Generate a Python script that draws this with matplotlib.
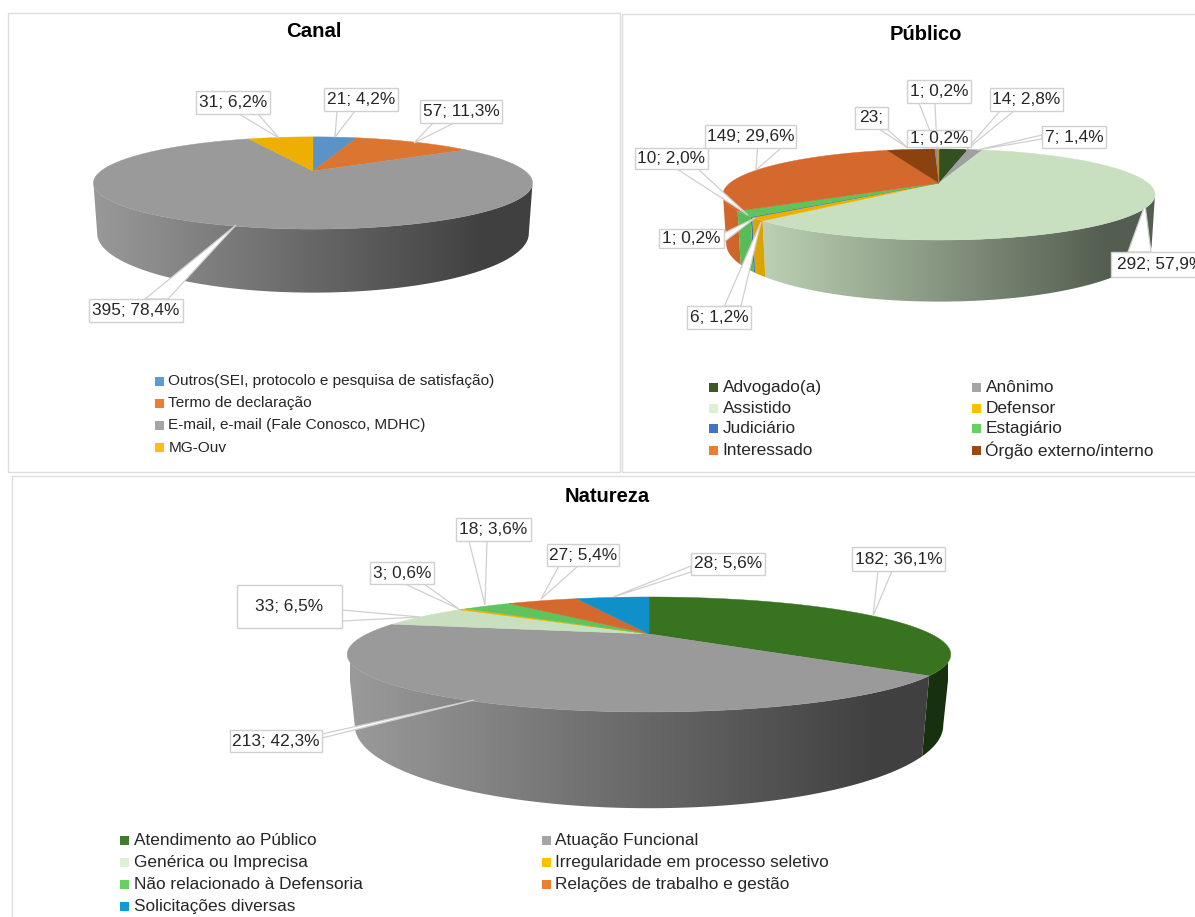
import numpy as np
import matplotlib
matplotlib.use("Agg")
import matplotlib.pyplot as plt
from matplotlib.patches import Polygon, Rectangle
from matplotlib.colors import to_rgb

plt.rcParams['font.family'] = ['Liberation Sans', 'DejaVu Sans']

# ---- data ----
canal_values = [21, 57, 395, 31]
canal_colors = ['#5B93C8', '#DC752F', '#9A9A9A', '#EDB000']
canal_labels = ['21; 4,2%', '57; 11,3%', '395; 78,4%', '31; 6,2%']
canal_legend = ['Outros(SEI, protocolo e pesquisa de satisfação)', 'Termo de declaração',
                'E-mail, e-mail (Fale Conosco, MDHC)', 'MG-Ouv']
canal_legend_colors = ['#5B9BD5', '#ED7D31', '#A5A5A5', '#FFC000']

publico_values = [14, 7, 292, 6, 1, 10, 149, 23, 1, 1]
publico_colors = ['#335020', '#A0A0A0', '#C9E0C0', '#EDB000', '#4A78B8', '#5EC45C',
                  '#D4682D', '#8C420F', '#7E8C9E', '#B8922E']
publico_labels = ['14; 2,8%', '7; 1,4%', '292; 57,9%', '6; 1,2%', '1; 0,2%', '10; 2,0%',
                  '149; 29,6%', '23;', '1; 0,2%', '1; 0,2%']
publico_legend = ['Advogado(a)', 'Anônimo', 'Assistido', 'Defensor', 'Judiciário',
                  'Estagiário', 'Interessado', 'Órgão externo/interno']
publico_legend_colors = ['#3B5A28', '#A5A5A5', '#DDF0D5', '#FFC000', '#4472C4', '#66D060',
                         '#ED7D31', '#9E480E']

natureza_values = [182, 213, 33, 3, 18, 27, 28]
natureza_colors = ['#38741F', '#9A9A9A', '#C9E0C0', '#EDB000', '#5EC45C', '#D4682D', '#0F90C8']
natureza_labels = ['182; 36,1%', '213; 42,3%', '33; 6,5%', '3; 0,6%', '18; 3,6%', '27; 5,4%', '28; 5,6%']
natureza_legend = ['Atendimento ao Público', 'Atuação Funcional', 'Genérica ou Imprecisa',
                   'Irregularidade em processo seletivo', 'Não relacionado à Defensoria',
                   'Relações de trabalho e gestão', 'Solicitações diversas']
natureza_legend_colors = ['#3F7D2A', '#A5A5A5', '#DDF0D5', '#FFC000', '#66D060', '#ED7D31', '#0F9BD8']

# ---- layout (pixel space of the picture) ----
W, H = 1195, 917
fig = plt.figure(figsize=(W / 100, H / 100), dpi=100)
ax = fig.add_axes([0, 0, 1, 1])
ax.axis('off')


def rim(theta, g):
    u, v = np.sin(theta), np.cos(theta)
    w = 1 + g['k'] * v
    return g['cx'] + g['rx'] * u / w, g['cy'] - g['ry'] * v / w, w


def pie3d(values, colors, g):
    vals = np.asarray(values, float)
    edges = np.concatenate([[0], np.cumsum(vals)]) / vals.sum() * 2 * np.pi
    left, right = g['cx'] - g['rx'] * 1.06, g['cx'] + g['rx'] * 1.06
    ramp = np.clip(np.linspace(0, 1, 256) / 0.88, 0, 1)[None, :, None]
    # only the front part of the rim, between its two horizontal extremes, shows a wall
    front0 = np.arccos(-g['k'])
    front1 = 2 * np.pi - front0
    for i, col in enumerate(colors):
        a, b = max(edges[i], front0), min(edges[i + 1], front1)
        if b <= a:
            continue
        n = max(3, int(np.degrees(b - a) * 2))
        th = np.linspace(a, b, n + 1)
        x, y, w = rim(th, g)
        xb = g['cx'] + (x - g['cx']) * g['taper']
        yb = y + g['d'] / w
        pts = list(zip(x, y)) + list(zip(xb[::-1], yb[::-1]))
        base = np.array(to_rgb(col))[None, None, :]
        grad = base * (1 - g['dark'] * ramp)
        clip = Polygon(pts, closed=True, facecolor='none', edgecolor='none', transform=ax.transData)
        ax.add_patch(clip)
        im = ax.imshow(grad, extent=(left, right, g['cy'] + 200, g['cy'] - 100), aspect='auto',
                       interpolation='bilinear', zorder=2)
        im.set_clip_path(clip)
    for i, col in enumerate(colors):
        n = max(3, int(np.degrees(edges[i + 1] - edges[i]) * 2))
        th = np.linspace(edges[i], edges[i + 1], n + 1)
        x, y, _ = rim(th, g)
        pts = [(g['cx'], g['cy'])] + list(zip(x, y))
        ax.add_patch(Polygon(pts, closed=True, facecolor=col, edgecolor=col, lw=0.3, zorder=3))


def callout(text, box, tail, size=12.4):
    x0, y0, x1, y1 = box
    (bx0, by0), (bx1, by1), tip = tail
    tri = [(bx0, by0), tip, (bx1, by1)]
    ax.add_patch(Polygon(tri, closed=True, facecolor='white', edgecolor='#D0D0D0', lw=0.9, zorder=4))
    ax.add_patch(Rectangle((x0, y0), x1 - x0, y1 - y0, facecolor='white', edgecolor='#D0D0D0', lw=1.0, zorder=5))
    ax.text((x0 + x1) / 2, (y0 + y1) / 2, text, ha='center', va='center', fontsize=size,
            color='#262626', zorder=6, clip_on=True)


def legend(names, colors, xs, ys, size):
    for i, (n, c) in enumerate(zip(names, colors)):
        col = i % len(xs)
        row = i // len(xs)
        ax.add_patch(Rectangle((xs[col], ys[row] - 4.5), 9, 9, facecolor=c, edgecolor='none', zorder=3))
        ax.text(xs[col] + 13.5, ys[row] + 0.5, n, ha='left', va='center', fontsize=size, color='#262626')


# panels
for x0, y0, x1, y1 in [(8.5, 13, 620, 472), (622, 14, 1200, 472), (12.5, 476, 1200, 925)]:
    ax.add_patch(Rectangle((x0, y0), x1 - x0, y1 - y0, facecolor='white', edgecolor='#DDDDDD', lw=1.0, zorder=1))

# titles
ax.text(313.5, 31.5, 'Canal', ha='center', va='center', fontsize=14.7, fontweight='bold', color='black')
ax.text(926, 34.5, 'Público', ha='center', va='center', fontsize=14.5, fontweight='bold', color='black')
ax.text(607, 496.5, 'Natureza', ha='center', va='center', fontsize=14.5, fontweight='bold', color='black')

# pies
pie3d(canal_values, canal_colors, dict(cx=313, cy=171, rx=212, ry=43, k=0.26, d=47, dark=0.58, taper=0.983))
pie3d(publico_values, publico_colors, dict(cx=939, cy=183, rx=209, ry=42.6, k=0.253, d=46, dark=0.58, taper=0.985))
pie3d(natureza_values, natureza_colors, dict(cx=649, cy=634, rx=282, ry=50.2, k=0.356, d=62, dark=0.58, taper=0.975))

# callouts: box, then the two feet of the tail and its tip
canal_boxes = [(324.5, 88, 398, 111), (420, 100, 502, 123), (89, 299, 183, 322), (196, 91, 270, 114)]
canal_tails = [((337, 111), (355, 111), (335, 137)), ((433, 123), (454, 123), (414, 143)),
               ((145, 299), (168, 299), (236, 225)), ((239, 114), (258, 114), (279, 138))]
for t, b, tl in zip(canal_labels, canal_boxes, canal_tails):
    callout(t, b, tl)

publico_boxes = [(990, 88, 1063, 111), (1042, 126, 1106, 148), (1111, 252, 1210, 277), (687, 306, 751, 329),
                 (659, 229, 724, 248), (635, 148, 708, 169), (705, 125, 796, 148), (855, 107, 888, 129),
                 (907, 80, 971, 103), (907, 130, 971, 147)]
publico_tails = [((1000, 111), (1014, 111), (966, 150)), ((1042, 135), (1042, 139), (977, 150)),
                 ((1128, 252), (1151, 252), (1145, 205)), ((724.5, 306), (741, 306), (761, 222)),
                 ((724, 233), (724, 242), (755, 218)), ((677, 169), (698, 169), (748, 215)),
                 ((757.5, 148), (781, 148), (756, 170)), ((879, 129), (887, 129), (908, 148)),
                 ((919, 103), (935, 103), (937, 149)), ((935, 147), (941, 147), (939, 149))]
for t, b, tl in zip(publico_labels, publico_boxes, publico_tails):
    callout(t, b, tl)

natureza_boxes = [(852, 547, 945, 571), (230, 730, 322.5, 752), (237, 585, 342, 628), (370, 562, 434, 584),
                  (456, 518, 531, 541), (547, 544, 619, 566), (691, 553, 765, 575)]
natureza_tails = [((878, 571), (892, 571), (873, 616)), ((322, 734), (322, 738), (474, 700)),
                  ((342, 610), (342, 621), (420, 617)), ((405, 584), (424, 584), (459, 609)),
                  ((469, 541), (487, 541), (485, 605)), ((559, 566), (578, 566), (541, 599)),
                  ((691, 566), (691, 572), (613, 597))]
for t, b, tl in zip(natureza_labels, natureza_boxes, natureza_tails):
    callout(t, b, tl)

# legends
legend(canal_legend, canal_legend_colors, [155], [381, 403, 425, 447], 11.1)
legend(publico_legend, publico_legend_colors, [709, 972], [387, 408, 428, 450], 12.45)
legend(natureza_legend, natureza_legend_colors, [120.5, 542], [840, 862, 884, 906], 12.4)

ax.set_xlim(0, W)
ax.set_ylim(H, 0)
fig.savefig('out.png', dpi=100)
